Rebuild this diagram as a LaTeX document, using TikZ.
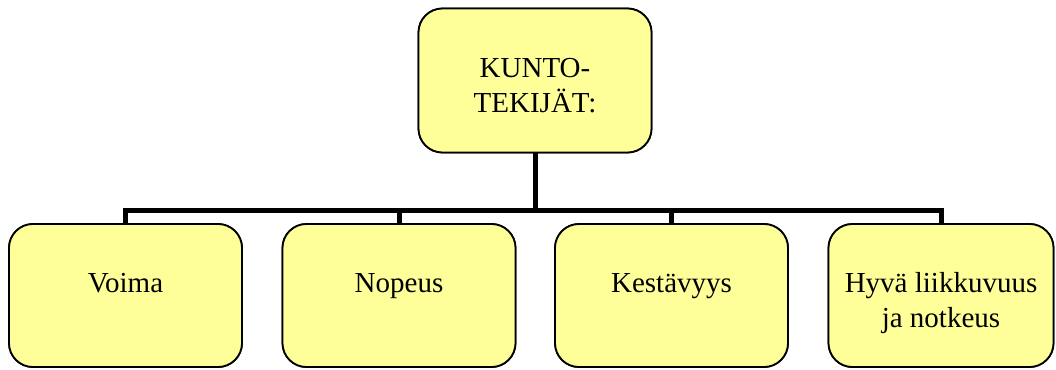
\documentclass[tikz,border=0pt]{standalone}
\usepackage{fontspec}
\setmainfont{Liberation Serif}
\definecolor{boxfill}{HTML}{FFFF99}
\begin{document}
\begin{tikzpicture}[x=1pt,y=-1pt,
  box/.style={draw=black, line width=1.8pt, fill=boxfill, rounded corners=24pt,
              minimum width=233pt, minimum height=143pt, inner sep=0pt},
  lbl/.style={font=\fontsize{29}{35}\selectfont, align=center, inner sep=0pt, anchor=base},
  conn/.style={line width=5pt, line join=miter, draw=black}]
\useasboundingbox (0,0) rectangle (1056,369);
\coordinate (busy) at (0,210);
% boxes (positions)
\path (535,80.5) node[box, minimum height=144pt] (top) {};
\path (125.5,295.5) node[box] (b1) {};
\path (399,295.5) node[box] (b2) {};
\path (671.5,295.5) node[box] (b3) {};
\path (941,295.5) node[box, minimum width=225pt] (b4) {};
% connectors
\draw[conn] (top.south) -- (top.south |- busy);
\draw[conn] (b1.north) -- (b1.north |- busy) -- (b4.north |- busy) -- (b4.north);
\draw[conn] (b2.north) -- (b2.north |- busy);
\draw[conn] (b3.north) -- (b3.north |- busy);
% redraw boxes over connector ends
\path (top.center) node[box, minimum height=144pt] {};
\path (b1.center) node[box] {};
\path (b2.center) node[box] {};
\path (b3.center) node[box] {};
\path (b4.center) node[box, minimum width=225pt] {};
% texts (base anchor = baseline of last line)
\node[lbl] (ttop) at (535,112) {KUNTO-\\TEKIJÄT:};
\node[lbl] (t1) at (125.5,292) {Voima};
\node[lbl] (t2) at (399,292) {Nopeus};
\node[lbl] (t3) at (671.5,292) {Kestävyys};
\node[lbl] (t4) at (941,327) {Hyvä liikkuvuus\\ja notkeus};
\end{tikzpicture}
\end{document}
